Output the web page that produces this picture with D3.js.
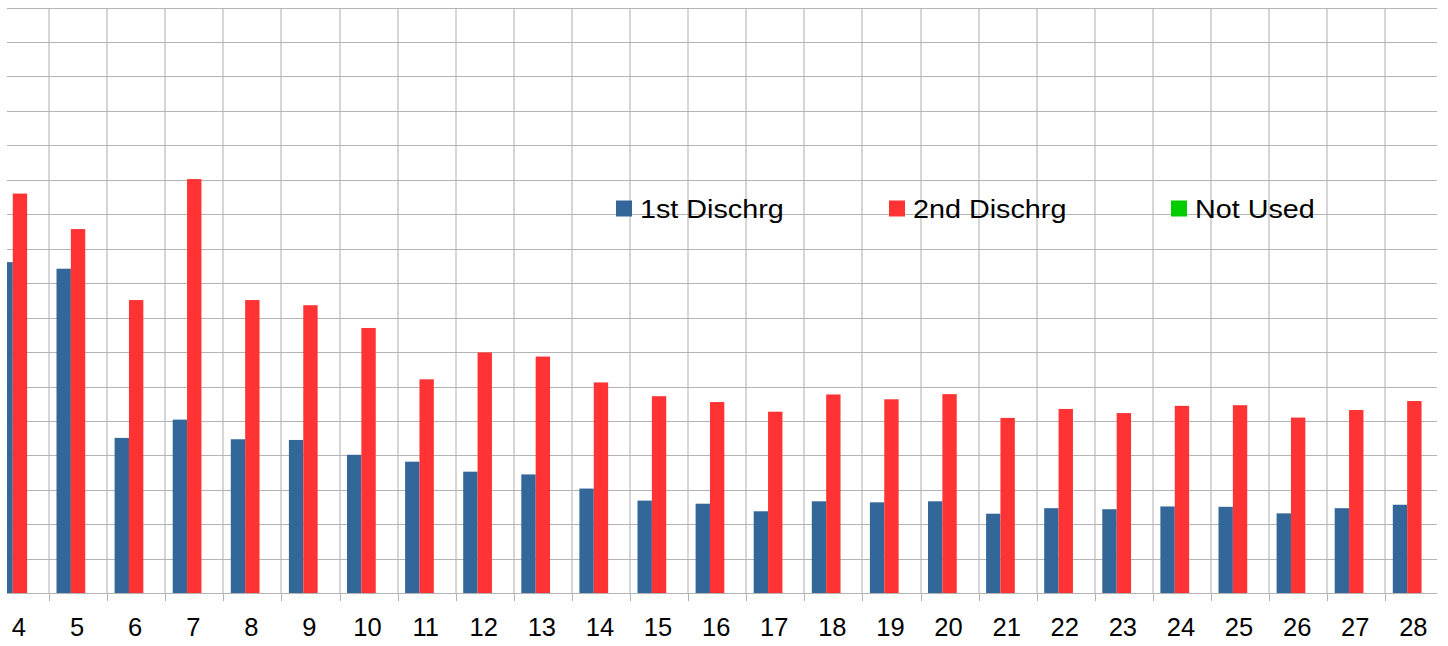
<!DOCTYPE html>
<meta charset="utf-8">
<style>
body { margin: 0; background: #fff; }
.grid line { stroke: #b3b3b3; shape-rendering: crispEdges; }
.vgrid line { stroke: #d6d6d6; stroke-width: 2px; shape-rendering: crispEdges; }
.axis line { stroke: #b3b3b3; shape-rendering: crispEdges; }
.axis text { font-family: "Liberation Sans", Arial, sans-serif; font-size: 25.5px; fill: #000; }
.legend text { font-family: "Liberation Sans", Arial, sans-serif; font-size: 25px; fill: #000; }
</style>
<svg width="1448" height="646"></svg>
<script src="https://d3js.org/d3.v7.min.js"></script>
<script>

var categories = ["4","5","6","7","8","9","10","11","12","13","14","15","16","17","18","19","20","21","22","23","24","25","26","27","28"];
var firstDischrg  = [9.61,9.42,4.51,5.04,4.47,4.45,4.02,3.82,3.53,3.45,3.04,2.69,2.60,2.38,2.67,2.64,2.67,2.31,2.47,2.44,2.52,2.51,2.32,2.47,2.57];
var secondDischrg = [11.60,10.57,8.51,12.02,8.51,8.36,7.70,6.21,6.99,6.87,6.12,5.72,5.55,5.27,5.77,5.63,5.78,5.09,5.35,5.23,5.44,5.46,5.10,5.32,5.58];
var notUsed       = categories.map(function() { return 0; });
var seriesNames = ["1st Dischrg", "2nd Dischrg", "Not Used"];
var seriesColors = ["#336699", "#ff3333", "#00cc00"];
var yTicks = d3.range(0, 18);

var svg = d3.select("svg");
var plotLeft = 7, plotRight = 1437, plotTop = 7.5, plotBottom = 593.3;

// the plot is cropped: band range runs a bit past both visible edges
var x = d3.scaleBand().domain(categories).range([-9.1, 1443.4]);
var y = d3.scaleLinear().domain([0, 17]).range([plotBottom, plotTop]);
var xs = d3.scaleBand().domain(seriesNames).range([7.5, x.bandwidth() - 7.5]);

svg.append("defs").append("clipPath").attr("id", "clip")
  .append("rect").attr("x", plotLeft).attr("y", 0).attr("width", plotRight - plotLeft).attr("height", 646);

var plot = svg.append("g").attr("clip-path", "url(#clip)");

// vertical gridlines at band boundaries
plot.append("g").attr("class", "vgrid")
  .selectAll("line").data(categories.slice(1))
  .enter().append("line")
    .attr("x1", function(d) { return x(d); })
    .attr("x2", function(d) { return x(d); })
    .attr("y1", plotTop).attr("y2", plotBottom);

// horizontal gridlines
plot.append("g").attr("class", "grid")
  .selectAll("line").data(yTicks.slice(1))
  .enter().append("line")
    .attr("x1", plotLeft).attr("x2", plotRight)
    .attr("y1", function(d) { return Math.round(y(d)) + 0.5; })
    .attr("y2", function(d) { return Math.round(y(d)) + 0.5; });

var series = [firstDischrg, secondDischrg, notUsed];
series.forEach(function(vals, si) {
  plot.append("g")
    .selectAll("rect").data(vals)
    .enter().append("rect")
      .attr("x", function(d, i) { return x(categories[i]) + xs(seriesNames[si]); })
      .attr("width", xs.bandwidth())
      .attr("y", function(d) { return y(d); })
      .attr("height", function(d) { return y(0) - y(d); })
      .attr("fill", seriesColors[si]);
});

// baseline + tick marks
var axis = svg.append("g").attr("class", "axis");
axis.append("line")
  .attr("x1", plotLeft).attr("x2", plotRight)
  .attr("y1", Math.round(plotBottom) + 0.5).attr("y2", Math.round(plotBottom) + 0.5);
axis.selectAll(".tk").data(categories.slice(1))
  .enter().append("line").attr("class", "tk")
    .attr("x1", function(d) { return Math.round(x(d)) + 0.5; })
    .attr("x2", function(d) { return Math.round(x(d)) + 0.5; })
    .attr("y1", plotBottom).attr("y2", plotBottom + 8);
axis.selectAll("text").data(categories)
  .enter().append("text")
    .attr("x", function(d) { return x(d) + x.bandwidth() / 2 - 1; })
    .attr("y", 636)
    .attr("text-anchor", "middle")
    .text(function(d) { return d; });

// legend (text is drawn a little wider than the font)
var legendX = [616, 889, 1171];
var legend = svg.append("g").attr("class", "legend");
seriesNames.forEach(function(name, i) {
  legend.append("rect")
    .attr("x", legendX[i]).attr("y", 200.5)
    .attr("width", 16).attr("height", 16)
    .attr("fill", seriesColors[i]);
  legend.append("text")
    .attr("transform", "translate(" + (legendX[i] + 24) + ",217.5) scale(1.15,1)")
    .text(name);
});

</script>
